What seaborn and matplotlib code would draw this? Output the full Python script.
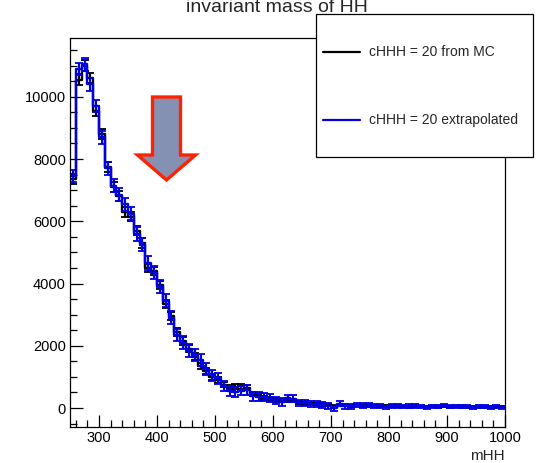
import numpy as np
import pandas as pd
import matplotlib
matplotlib.use("Agg")
import matplotlib.pyplot as plt
from matplotlib.patches import Rectangle, Polygon
from matplotlib.lines import Line2D
import seaborn as sns

# ---- data -------------------------------------------------------------
bin_edges = np.arange(250, 1001, 10)          # mHH bin grid
bin_centers = (bin_edges[:-1] + bin_edges[1:]) / 2

mc_values = [7350, 10550, 11000, 10600, 9550, 8800, 7750, 7100, 6800, 6300,
             6150, 5700, 5300, 4500, 4400, 3950, 3350, 2950, 2450, 2150,
             1900, 1650, 1350, 1200, 1000, 900, 750, 650, 680, 700,
             650, 450, 420, 330, 300, 260, 230, 230, 240, 180,
             150, 130, 120, 110, 90, 70, 80, 90, 70, 80,
             60, 70, 60, 50, 60, 50, 60, 50, 40, 60,
             50, 40, 50, 40, 50, 40, 50, 40, 30, 40,
             40, 30, 40, 30, 30]
mc_errors = [160, 170, 170, 170, 160, 160, 160, 160, 160, 160,
             150, 150, 150, 140, 140, 140, 130, 130, 120, 120,
             110, 110, 100, 100, 90, 90, 80, 80, 80, 80,
             80, 70, 70, 60, 60, 60, 50, 50, 50, 50,
             40, 40, 40, 40, 40, 30, 30, 30, 30, 30,
             30, 30, 30, 30, 30, 30, 30, 30, 30, 30,
             30, 30, 30, 30, 30, 30, 30, 30, 30, 30,
             30, 30, 30, 30, 30]
extrap_values = [7450, 10900, 11050, 10400, 9700, 8700, 7700, 7150, 6850, 6550,
                 6250, 5600, 5250, 4650, 4350, 3900, 3450, 2900, 2350, 2100,
                 1850, 1700, 1550, 1250, 1050, 950, 700, 550, 520, 560,
                 580, 380, 360, 350, 330, 250, 200, 310, 300, 160,
                 150, 140, 120, 100, 60, 0, 140, 60, 50, 100,
                 80, 90, 70, 60, 20, 60, 70, 50, 60, 70,
                 40, 30, 50, 60, 70, 40, 50, 60, 40, 30,
                 50, 40, 30, 40, 30]
extrap_errors = [200, 200, 210, 200, 200, 210, 210, 210, 210, 210,
                 210, 220, 220, 220, 210, 210, 210, 210, 200, 200,
                 200, 200, 190, 190, 180, 170, 160, 150, 150, 150,
                 150, 140, 140, 130, 130, 120, 120, 120, 110, 110,
                 100, 100, 90, 90, 90, 80, 80, 80, 70, 70,
                 70, 70, 60, 60, 60, 60, 60, 60, 60, 60,
                 50, 50, 50, 50, 50, 50, 50, 50, 50, 50,
                 50, 50, 50, 50, 50]

series_labels = ["cHHH = 20 from MC", "cHHH = 20 extrapolated"]
series_colors = ["#000000", "#0000e0"]
title_text = "invariant mass of HH"
x_label = "mHH"
x_major_ticks = [300, 400, 500, 600, 700, 800, 900, 1000]
y_major_ticks = [0, 2000, 4000, 6000, 8000, 10000]

df = pd.DataFrame({
    "mHH": np.concatenate([bin_centers, bin_centers]),
    "entries": np.concatenate([mc_values, extrap_values]),
    "err": np.concatenate([mc_errors, extrap_errors]),
    "sample": [series_labels[0]] * len(bin_centers) + [series_labels[1]] * len(bin_centers),
})

# ---- style ------------------------------------------------------------
sns.set_theme(style="ticks")
plt.rcParams["font.family"] = ["Liberation Sans", "DejaVu Sans"]

W, H = 543, 463
fig = plt.figure(figsize=(W / 100, H / 100), dpi=100)
ax = fig.add_axes([70 / W, 1 - 427 / H, 435 / W, 389 / H])

for lab, col in zip(series_labels, series_colors):
    sub = df[df["sample"] == lab]
    sns.histplot(data=sub, x="mHH", weights="entries", binwidth=10,
                 binrange=(250, 1000), element="step", fill=False,
                 color=col, linewidth=1.7, ax=ax)
    ax.errorbar(sub["mHH"], sub["entries"], yerr=sub["err"], fmt="none",
                ecolor=col, elinewidth=1.5, capsize=3, capthick=1.3)

ax.set_xlim(250, 1000)
ax.set_ylim(-610, 11890)
ax.set_xticks(x_major_ticks)
ax.set_yticks(y_major_ticks)
ax.set_xticks(np.arange(260, 1001, 20), minor=True)
ax.set_yticks(np.arange(-500, 11890, 500), minor=True)
ax.set_xlabel("")
ax.set_ylabel("")
ax.tick_params(which="major", direction="in", length=9, width=0.9,
               labelsize=10.5, color="black", labelcolor="black")
ax.tick_params(which="minor", direction="in", length=4.8, width=0.9, color="black")
ax.tick_params(axis="y", pad=3)
ax.tick_params(axis="x", pad=3)
for s in ax.spines.values():
    s.set_visible(True)
    s.set_color("black")
    s.set_linewidth(0.9)

# axis label
fig.text(505 / W, 1 - 460 / H, x_label, ha="right", va="baseline", fontsize=11)

# title (partially clipped at the top, as in the reference)
fig.text(277 / W, 1 - 12 / H, title_text, ha="center", va="baseline", fontsize=14)

# legend box
fig.add_artist(Rectangle((316 / W, 1 - 157 / H), (533 - 316) / W, (157 - 14) / H,
                         transform=fig.transFigure, facecolor="white",
                         edgecolor="black", linewidth=0.9, zorder=5))
for ypix, lab, col in zip([52, 120], series_labels, series_colors):
    fig.add_artist(Line2D([323 / W, 360 / W], [1 - ypix / H] * 2,
                          transform=fig.transFigure, color=col, linewidth=1.6, zorder=6))
    fig.text(369 / W, 1 - ypix / H, lab, ha="left", va="center", fontsize=10, zorder=6)

# arrow
pts_px = [(152.5, 97), (180.5, 97), (180.5, 155), (195.5, 155),
          (166.5, 180), (137.5, 155), (152.5, 155)]
pts = [(x / W, 1 - y / H) for x, y in pts_px]
fig.add_artist(Polygon(pts, closed=True, transform=fig.transFigure,
                       facecolor="#8491b3", edgecolor="#ff2200",
                       linewidth=2.4, joinstyle="miter", zorder=4))

fig.savefig("out.png", dpi=100)
